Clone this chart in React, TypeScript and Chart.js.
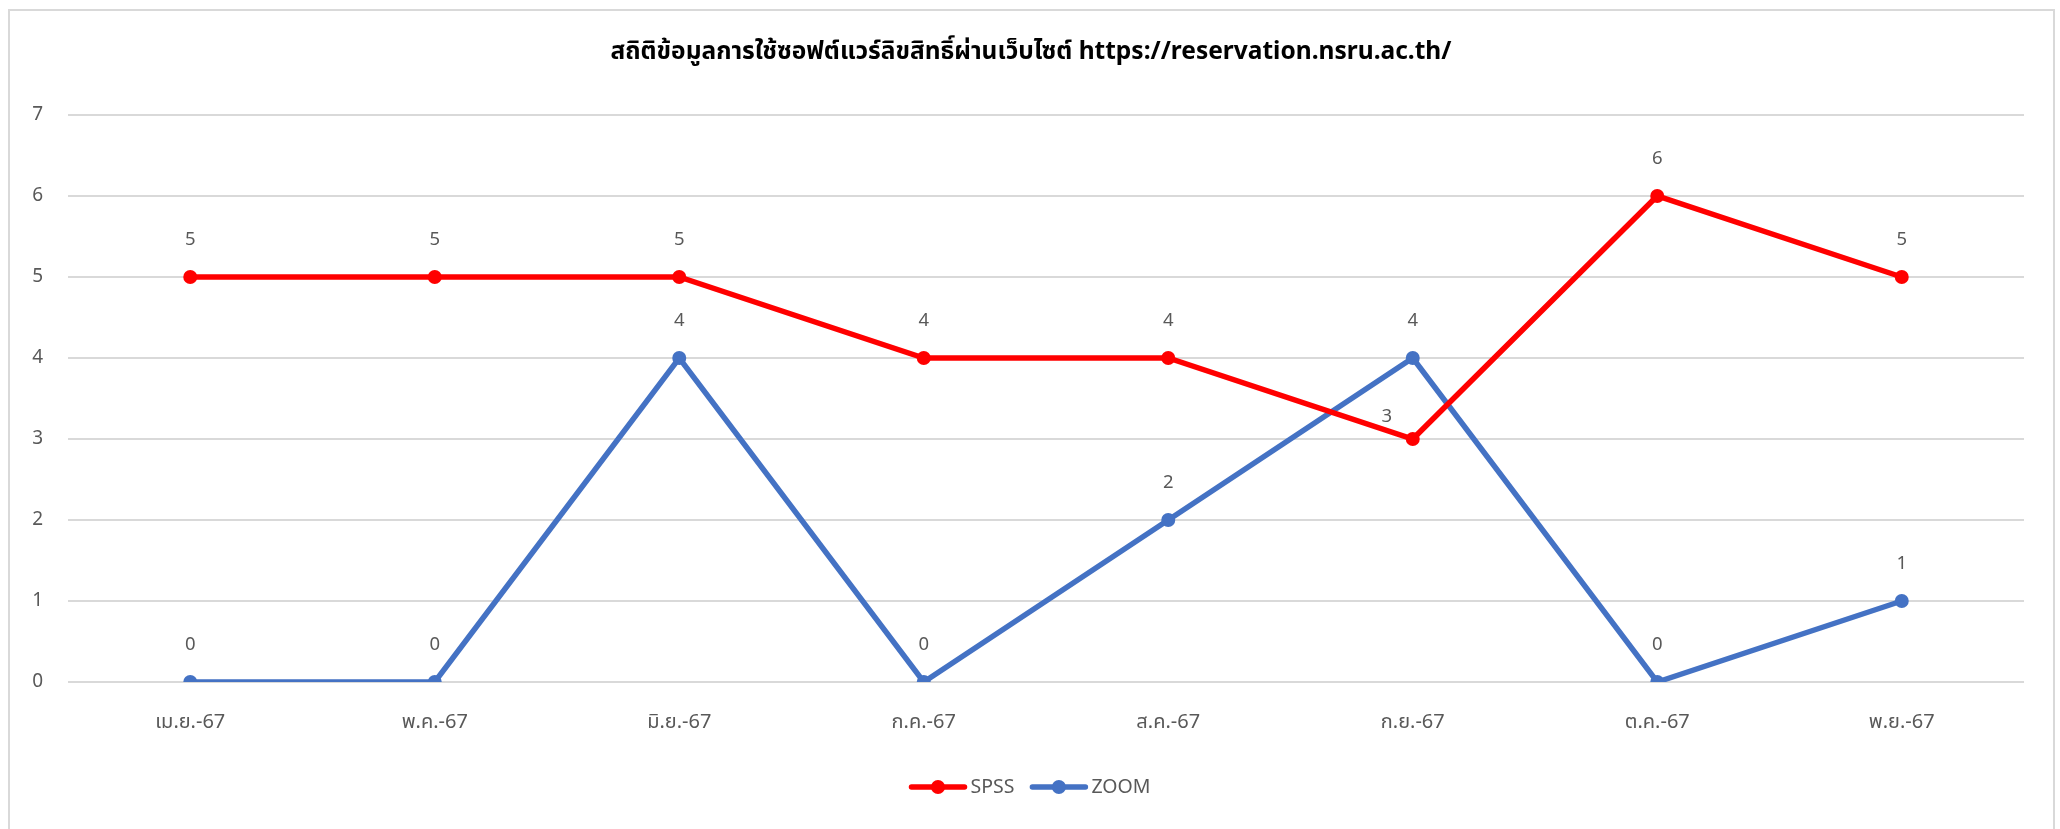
import React, { useEffect, useRef } from "react";
import { Chart, registerables } from "chart.js";

Chart.register(...registerables);

const chartTitle = "สถิติข้อมูลการใช้ซอฟต์แวร์ลิขสิทธิ์ผ่านเว็บไซต์ https://reservation.nsru.ac.th/";
const months = ["เม.ย.-67", "พ.ค.-67", "มิ.ย.-67", "ก.ค.-67", "ส.ค.-67", "ก.ย.-67", "ต.ค.-67", "พ.ย.-67"];
const spssValues = [5, 5, 5, 4, 4, 3, 6, 5];
const zoomValues = [0, 0, 4, 0, 2, 4, 0, 1];
const yTicks = [0, 1, 2, 3, 4, 5, 6, 7];

const FONT = "'Noto Sans', 'Noto Sans Thai', 'DejaVu Sans', sans-serif";
const TEXT = "#595959";

const W = 2060;
const H = 829;

const decorPlugin = {
  id: "decor",
  beforeDraw(chart: any) {
    const ctx = chart.ctx;
    ctx.save();
    ctx.fillStyle = "#ffffff";
    ctx.fillRect(0, 0, W, H);
    ctx.strokeStyle = "#d9d9d9";
    ctx.lineWidth = 2;
    ctx.strokeRect(9, 10, 2045, H + 20);
    ctx.restore();
  },
  afterDraw(chart: any) {
    const ctx = chart.ctx;
    ctx.save();
    // title
    ctx.fillStyle = "#000000";
    ctx.font = `bold 24.5px ${FONT}`;
    ctx.textAlign = "center";
    ctx.textBaseline = "middle";
    ctx.fillText(chartTitle, 1031, 52);

    // data labels
    ctx.font = `18.5px ${FONT}`;
    ctx.fillStyle = TEXT;
    chart.data.datasets.forEach((ds: any, di: number) => {
      const meta = chart.getDatasetMeta(di);
      meta.data.forEach((pt: any, i: number) => {
        let x = pt.x;
        let y = pt.y - 37;
        if (di === 0 && i === 5) {
          x = pt.x - 26;
          y = pt.y - 22;
        }
        ctx.fillText(String(ds.data[i]), x, y);
      });
    });

    // legend
    ctx.font = `19.5px ${FONT}`;
    const ly = 787;
    const lineLen = 53;
    const gap = 6;
    const itemGap = 18;
    const items = chart.data.datasets.map((ds: any) => ({
      label: ds.label,
      color: ds.borderColor,
      w: lineLen + gap + ctx.measureText(ds.label).width,
    }));
    const total = items.reduce((s: number, it: any) => s + it.w, 0) + itemGap * (items.length - 1);
    let x = 1031 - total / 2;
    ctx.textAlign = "left";
    items.forEach((it: any) => {
      ctx.strokeStyle = it.color;
      ctx.lineWidth = 5.5;
      ctx.lineCap = "round";
      ctx.beginPath();
      ctx.moveTo(x, ly);
      ctx.lineTo(x + lineLen, ly);
      ctx.stroke();
      ctx.fillStyle = it.color;
      ctx.beginPath();
      ctx.arc(x + lineLen / 2, ly, 7, 0, Math.PI * 2);
      ctx.fill();
      ctx.fillStyle = TEXT;
      ctx.fillText(it.label, x + lineLen + gap, ly);
      x += it.w + itemGap;
    });
    ctx.restore();
  },
};

export default function App() {
  const ref = useRef<HTMLCanvasElement>(null);
  useEffect(() => {
    document.body.style.margin = "0";
    const chart = new Chart(ref.current as HTMLCanvasElement, {
      type: "line",
      data: {
        labels: months,
        datasets: [
          {
            label: "SPSS",
            data: spssValues,
            borderColor: "#ff0000",
            backgroundColor: "#ff0000",
            borderWidth: 5.5,
            pointRadius: 7,
            pointBorderWidth: 0,
            tension: 0,
          },
          {
            label: "ZOOM",
            data: zoomValues,
            borderColor: "#4472c4",
            backgroundColor: "#4472c4",
            borderWidth: 5.5,
            pointRadius: 7,
            pointBorderWidth: 0,
            tension: 0,
          },
        ],
      },
      options: {
        responsive: false,
        animation: false,
        devicePixelRatio: 1,
        layout: { padding: { left: 0, right: 36, top: 115, bottom: 0 } },
        plugins: {
          legend: { display: false },
          title: { display: false },
          tooltip: { enabled: false },
        },
        scales: {
          x: {
            offset: true,
            grid: { display: false, drawTicks: false },
            border: { display: false },
            ticks: { color: TEXT, font: { family: FONT, size: 20 }, padding: 28 },
            afterFit: (s: any) => {
              s.height = 147;
            },
          },
          y: {
            min: 0,
            max: 7,
            afterBuildTicks: (s: any) => {
              s.ticks = yTicks.map((v) => ({ value: v }));
            },
            grid: { color: "#d9d9d9", lineWidth: 2, drawTicks: false },
            border: { display: false },
            ticks: { color: TEXT, font: { family: FONT, size: 19 }, padding: 25 },
            afterFit: (s: any) => {
              s.width = 68;
            },
          },
        },
      },
      plugins: [decorPlugin],
    });
    return () => chart.destroy();
  }, []);
  return <canvas ref={ref} width={W} height={H} style={{ display: "block" }} />;
}
